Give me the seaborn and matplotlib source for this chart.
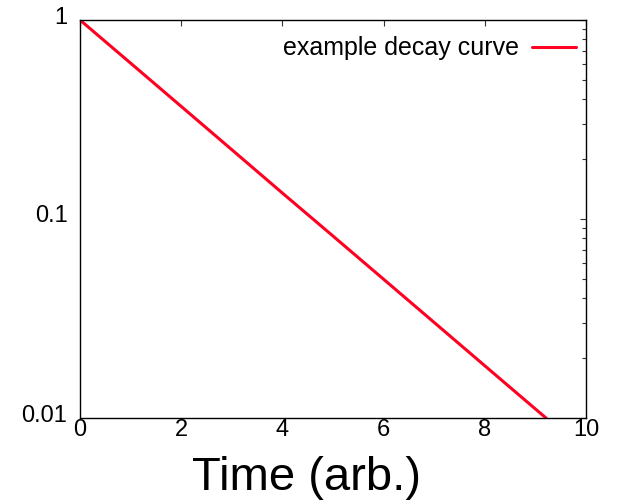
import matplotlib
matplotlib.use("Agg")
import matplotlib.pyplot as plt
import matplotlib.transforms as mtransforms
import seaborn as sns
import pandas as pd
from matplotlib.ticker import LogLocator, FixedLocator, NullFormatter

sns.set_theme(style="white")
plt.rcParams["font.family"] = ["Liberation Sans", "DejaVu Sans"]
plt.rcParams["text.color"] = "black"
plt.rcParams["axes.labelcolor"] = "black"

# Decay curve samples
time = [0.0, 1.0, 2.0, 3.0, 4.0, 5.0, 6.0, 7.0, 8.0, 9.0, 9.21]
signal = [1.0, 0.607, 0.368, 0.223, 0.135, 0.0821, 0.0498, 0.0302, 0.0183, 0.0111, 0.01]
series_label = "example decay curve"

x_ticks = [0, 2, 4, 6, 8, 10]
y_ticks = [0.01, 0.1, 1]
y_tick_labels = ["0.01", "0.1", "1"]

df = pd.DataFrame({"Time": time, "Signal": signal})

fig = plt.figure(figsize=(6.21, 5.04), dpi=100)
ax = fig.add_axes([80 / 621, 1 - 418 / 504, 506 / 621, 398 / 504])

sns.lineplot(data=df, x="Time", y="Signal", ax=ax, color="#ff0022",
             linewidth=2.2, label=series_label)

ax.set_yscale("log")
ax.set_xlim(0, 10)
ax.set_ylim(0.01, 1)

ax.xaxis.set_major_locator(FixedLocator(x_ticks))
ax.set_xticklabels([str(t) for t in x_ticks])
ax.yaxis.set_major_locator(FixedLocator(y_ticks))
ax.set_yticklabels(y_tick_labels)
ax.yaxis.set_minor_locator(LogLocator(base=10, subs=range(2, 10)))
ax.yaxis.set_minor_formatter(NullFormatter())

ax.tick_params(which="both", direction="in", top=True, right=True,
               colors="#333333", labelcolor="black", labelsize=17)
ax.tick_params(axis="x", which="major", pad=1)
ax.tick_params(axis="y", which="major", pad=9)
ax.tick_params(which="major", length=4, width=0.8)
ax.tick_params(which="minor", length=3, width=0.8)

# y tick labels sit slightly above their ticks
lift = mtransforms.ScaledTranslation(0, 5 / 100, fig.dpi_scale_trans)
for lbl in ax.get_yticklabels():
    lbl.set_transform(lbl.get_transform() + lift)

for spine in ax.spines.values():
    spine.set_color("black")
    spine.set_linewidth(1.0)

ax.set_xlabel("Time (arb.)", fontsize=34)
ax.xaxis.set_label_coords(0.447, -0.096)
ax.set_ylabel("")

leg = ax.legend(loc="upper right", bbox_to_anchor=(1.0, 0.984), frameon=False,
                fontsize=18, markerfirst=False, handlelength=1.76,
                borderaxespad=0.0, handletextpad=0.52)
for txt in leg.get_texts():
    txt.set_color("black")

fig.savefig("out.png", dpi=100)
